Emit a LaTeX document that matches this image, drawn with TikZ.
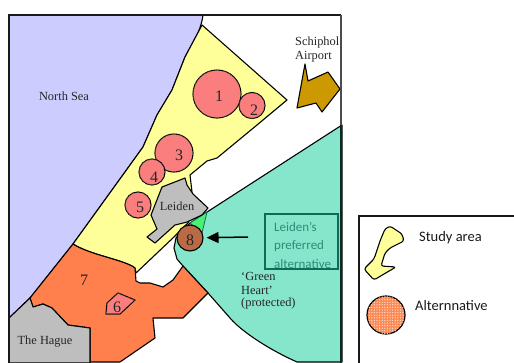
\documentclass[tikz,border=0pt]{standalone}
\usepackage{fontspec}
\setmainfont{Liberation Serif}
\newfontfamily\legendfont{Carlito}
\usetikzlibrary{patterns,patterns.meta,arrows.meta}
\definecolor{seablue}{HTML}{CCCCFF}
\definecolor{studyyellow}{HTML}{FFFF99}
\definecolor{heartgreen}{HTML}{85E6CC}
\definecolor{orangeland}{HTML}{FF7F4D}
\definecolor{cityg}{HTML}{BEBEBE}
\definecolor{airport}{HTML}{CC9900}
\definecolor{alt}{HTML}{FA6464}
\definecolor{altkeyc}{HTML}{FB8A55}
\definecolor{eight}{HTML}{B96B45}
\definecolor{boxgreen}{HTML}{0F6B57}
\definecolor{boxtext}{HTML}{2F8C78}
\tikzset{
  region/.style={draw=black,line width=1.1pt,line join=round},
  altdisc/.style={region,fill=alt,postaction={pattern={Dots[distance=2pt,radius=.55pt]},pattern color=white!75!alt}},
  lab/.style={font=\fontsize{12.4}{14}\selectfont,text=black!85,inner sep=0pt},
  num/.style={font=\fontsize{16}{18}\selectfont,text=black!85,inner sep=0pt},
  legendtext/.style={font=\legendfont\fontsize{14.5}{16}\selectfont,text=black!90,inner sep=0pt,anchor=west},
  boxtextstyle/.style={font=\legendfont\fontsize{13}{15}\selectfont,text=boxtext,inner sep=0pt,anchor=west}
}
\begin{document}
\begin{tikzpicture}[x=1pt,y=-1pt]
\useasboundingbox (0,0) rectangle (514,362);
\clip (0,0) rectangle (514,362);
% North Sea
\fill[seablue] (9,15) -- (203,15) .. controls (202,22) and (201,25) .. (198,33) -- (185,57) -- (172,90) -- (157,115) -- (143,147) -- (125,172) -- (73,244) -- (30,298) -- (9,318) -- cycle;
\draw[line width=1.1pt] (203,15) .. controls (202,22) and (201,25) .. (198,33) -- (185,57) -- (172,90) -- (157,115) -- (143,147) -- (125,172) -- (73,244) -- (30,298) -- (9,318);
% study area
\draw[region,fill=studyyellow] (202,25) -- (287,100) -- (257,125) -- (217,158) -- (207,161) -- (190,175) -- (192,192) -- (192,215) -- (188,223) -- (175,236) -- (136,273) -- (135,268) .. controls (125,260) and (90,255) .. (73,244) -- (125,172) -- (143,147) -- (157,115) -- (172,90) -- (185,57) -- cycle;
% green heart
\draw[region,fill=heartgreen] (342,125) -- (190,223) -- (176,238) -- (174,248) -- (177,259) -- (183,266) -- (208,293) -- (230,318) .. controls (242,332) and (270,350) .. (297,362) -- (342,362) -- cycle;
\draw[draw=boxgreen,line width=.8pt,fill=green!45!heartgreen] (190,223) -- (207,212) -- (202,233) -- cycle;
% orange
\draw[region,fill=orangeland] (73,244) .. controls (90,255) and (125,260) .. (135,268) -- (136,281) -- (140,283) -- (150,283) -- (163,287) -- (173,280) -- (183,266) -- (208,293) -- (183,318) -- (153,318) -- (155,338) -- (120,362) -- (90,362) -- (90,328) -- (68,325) -- (52,308) -- (43,304) -- (33,307) -- (30,298) -- cycle;
% The Hague
\draw[region,fill=cityg] (9,318) -- (30,298) -- (33,307) -- (43,304) -- (52,308) -- (68,325) -- (90,328) -- (90,363) -- (9,363) -- cycle;
% Leiden
\draw[region,fill=cityg] (185,178) -- (187,185) -- (193,194) -- (208,208) -- (202,215) -- (187,222) -- (175,225) -- (155,243) -- (147,237) -- (157,229) -- (151,215) -- (162,187) -- (180,180) -- cycle;
% airport
\draw[region,fill=airport] (305,64) -- (308,81) -- (328,72) -- (340,89) -- (322,112) -- (316,103) -- (297,108) -- cycle;
% frame
\draw[line width=1.5pt,black!90] (9,363) -- (9,15) -- (341,15);
\draw[line width=1.2pt,black!70] (341,15) -- (341,125);
\draw[line width=1.2pt,black!60!boxgreen] (341,125) -- (341,363);
% discs
\node[altdisc,circle,minimum size=48pt,inner sep=0pt] (d1) at (217,94) {};
\node[altdisc,circle,minimum size=26pt,inner sep=0pt] (d2) at (252,105.5) {};
\node[altdisc,circle,minimum size=38pt,inner sep=0pt] (d3) at (174,153) {};
\node[altdisc,circle,minimum size=26pt,inner sep=0pt] (d4) at (152,172) {};
\node[altdisc,circle,minimum size=26pt,inner sep=0pt] (d5) at (138,205) {};
\draw[altdisc] (118,293) -- (135,300) -- (120,314) -- (106,314) -- (107,303) -- cycle;
\node[region,circle,fill=eight,minimum size=26pt,inner sep=0pt] (d8) at (190,238) {};
% numbers
\node[num] (n1) at (219,96) {1};
\node[num] (n2) at (254,110) {2};
\node[num] (n3) at (179,155) {3};
\node[num] (n4) at (154,177) {4};
\node[num] (n5) at (140,207) {5};
\node[num] (n6) at (117,307) {6};
\node[num] (n7) at (84,280) {7};
\node[num] (n8) at (190,240) {8};
% labels
\node[lab] (sea) at (64,96) {North Sea};
\node[lab,anchor=west] (sch) at (295,43) {Schiphol};
\node[lab,anchor=west] (air) at (295,57) {Airport};
\node[lab] (lei) at (177,206) {Leiden};
\node[lab] (hag) at (45,342) {The Hague};
\node[lab,anchor=west] (gh1) at (241,276) {‘Green};
\node[lab,anchor=west] (gh2) at (241,290) {Heart’};
\node[lab,anchor=west] (gh3) at (241,304) {(protected)};
% preferred box
\node[draw=boxgreen,line width=1.5pt,minimum width=73pt,minimum height=55pt,inner sep=0pt] (pref) at (301.5,241.5) {};
\node[boxtextstyle] (p1) at (274,227) {Leiden’s};
\node[boxtextstyle] (p2) at (274,246) {preferred};
\node[boxtextstyle] (p3) at (274,264) {alternative};
% arrow
\coordinate (arrowstart) at (248,237);
\draw[line width=1.5pt,shorten >=3pt,-{Triangle[length=12pt,width=11pt]}] (arrowstart) -- (d8);
% legend
\draw[line width=1.5pt,black!90] (520,216) -- (359,216) -- (359,365);
\draw[region,fill=studyyellow,rounded corners=2.5pt] (390,226) -- (402,234) -- (404,241) -- (390,248) -- (385,253) -- (381,266) -- (396,267) -- (384,274) -- (374,280) -- (364,269) -- (374,259) -- (380,241) -- (385,229) -- cycle;
\node[legendtext] (study) at (419,238) {Study area};
\node[circle,draw=black,line width=1.2pt,fill=altkeyc,minimum size=38pt,inner sep=0pt,postaction={pattern={Dots[distance=2.6pt,radius=.7pt]},pattern color=white!70!altkeyc}] (altkey) at (386,315) {};
\node[legendtext] (alttext) at (415,306) {Alternnative};
\end{tikzpicture}
\end{document}
